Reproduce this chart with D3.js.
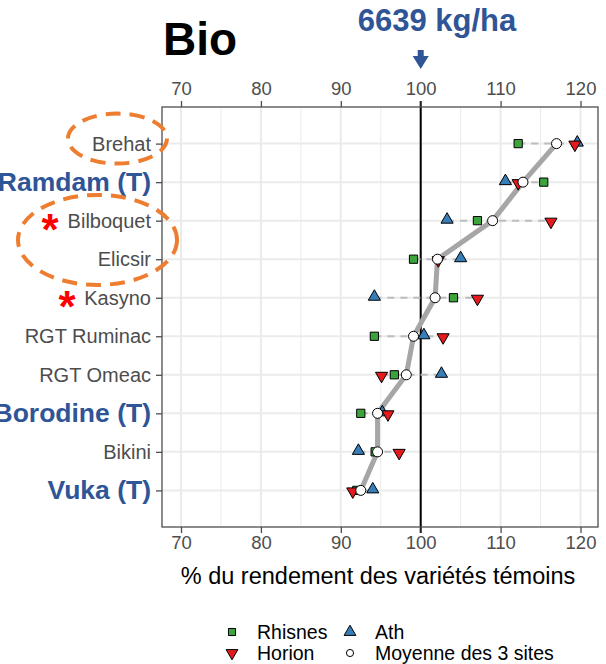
<!DOCTYPE html>
<html>
<head>
<meta charset="utf-8">
<script src="https://cdn.jsdelivr.net/npm/d3@7.8.5/dist/d3.min.js"></script>
<style>
  body { margin: 0; background: #fff; }
  svg { display: block; font-family: "Liberation Sans", Arial, sans-serif; }
</style>
</head>
<body>
<div id="chart"></div>
<script>
// Varieties, top to bottom
const varieties = ["Brehat", "Ramdam (T)", "Bilboquet", "Elicsir", "Kasyno",
  "RGT Ruminac", "RGT Omeac", "Borodine (T)", "Bikini", "Vuka (T)"];
const temoins = ["Ramdam (T)", "Borodine (T)", "Vuka (T)"];
const starred = ["Bilboquet", "Kasyno"];

// % of control yield per site
const rhisnes = [112.2, 115.4, 107.1, 99.1, 104.1, 94.2, 96.7, 92.5, 94.3, 92.0];
const horion  = [119.3, 112.2, 116.3, 102.2, 107.1, 102.8, 95.1, 95.9, 97.3, 91.5];
const ath     = [119.6, 110.6, 103.3, 105.0, 94.2, 100.4, 102.6, 95.2, 92.2, 94.0];
const moyenne = [117.0, 112.8, 109.0, 102.1, 101.8, 99.1, 98.2, 94.6, 94.6, 92.5];

const xTicks = [70, 80, 90, 100, 110, 120];
const xMinor = [75, 85, 95, 105, 115];

const width = 606, height = 664;
const margin = { top: 107, right: 8, bottom: 137, left: 162 };
const blue = "#2F5597";
const orange = "#ED7D31";
const colors = { rhisnes: "#3DA33D", horion: "#E41A1C", ath: "#377EB8" };

const svg = d3.select("#chart").append("svg")
  .attr("width", width)
  .attr("height", height);

const x = d3.scaleLinear()
  .domain([67.62, 122.19])
  .range([margin.left, width - margin.right]);

const y = d3.scalePoint()
  .domain(varieties)
  .range([margin.top, height - margin.bottom])
  .padding(0.95);

const rows = varieties.map((v, i) => ({
  name: v,
  rhisnes: rhisnes[i],
  horion: horion[i],
  ath: ath[i],
  moyenne: moyenne[i],
}));

// grid
const grid = svg.append("g");
grid.selectAll(".minor").data(xMinor).enter().append("line")
  .attr("x1", d => x(d)).attr("x2", d => x(d))
  .attr("y1", margin.top).attr("y2", height - margin.bottom)
  .attr("stroke", "#ebebeb").attr("stroke-width", 1);
grid.selectAll(".major").data(xTicks).enter().append("line")
  .attr("x1", d => x(d)).attr("x2", d => x(d))
  .attr("y1", margin.top).attr("y2", height - margin.bottom)
  .attr("stroke", "#ebebeb").attr("stroke-width", 2);
grid.selectAll(".hrow").data(varieties).enter().append("line")
  .attr("x1", margin.left).attr("x2", width - margin.right)
  .attr("y1", d => y(d)).attr("y2", d => y(d))
  .attr("stroke", "#ebebeb").attr("stroke-width", 2);

// reference line at 100
svg.append("line")
  .attr("x1", x(100)).attr("x2", x(100))
  .attr("y1", margin.top - 6).attr("y2", height - margin.bottom + 6)
  .attr("stroke", "#000").attr("stroke-width", 2);

// range per variety (dashed)
svg.append("g").selectAll("line").data(rows).enter().append("line")
  .attr("x1", d => x(Math.min(d.rhisnes, d.horion, d.ath)))
  .attr("x2", d => x(Math.max(d.rhisnes, d.horion, d.ath)))
  .attr("y1", d => y(d.name)).attr("y2", d => y(d.name))
  .attr("stroke", "#bdbdbd").attr("stroke-width", 2)
  .attr("stroke-dasharray", "7,6");

// mean line
svg.append("path")
  .datum(rows)
  .attr("fill", "none")
  .attr("stroke", "#a6a6a6")
  .attr("stroke-width", 5)
  .attr("stroke-linejoin", "round")
  .attr("d", d3.line().x(d => x(d.moyenne)).y(d => y(d.name)));

const triUp = d3.symbol().type(d3.symbolTriangle).size(64);
const square = d3.symbol().type(d3.symbolSquare).size(68);

svg.append("g").selectAll("path").data(rows).enter().append("path")
  .attr("d", triUp)
  .attr("transform", d => `translate(${x(d.ath)},${y(d.name) - 1})`)
  .attr("fill", colors.ath).attr("stroke", "#000").attr("stroke-width", 1);

svg.append("g").selectAll("path").data(rows).enter().append("path")
  .attr("d", square)
  .attr("transform", d => `translate(${x(d.rhisnes)},${y(d.name)})`)
  .attr("fill", colors.rhisnes).attr("stroke", "#000").attr("stroke-width", 1);

svg.append("g").selectAll("path").data(rows).enter().append("path")
  .attr("d", triUp)
  .attr("transform", d => `translate(${x(d.horion)},${y(d.name) + 1}) rotate(180)`)
  .attr("fill", colors.horion).attr("stroke", "#000").attr("stroke-width", 1);

svg.append("g").selectAll("circle").data(rows).enter().append("circle")
  .attr("cx", d => x(d.moyenne)).attr("cy", d => y(d.name))
  .attr("r", 5)
  .attr("fill", "#fff").attr("stroke", "#000").attr("stroke-width", 1);

// panel border
svg.append("rect")
  .attr("x", margin.left).attr("y", margin.top)
  .attr("width", width - margin.left - margin.right)
  .attr("height", height - margin.top - margin.bottom)
  .attr("fill", "none").attr("stroke", "#4d4d4d").attr("stroke-width", 1.3);

// axes
const topAxis = svg.append("g")
  .attr("transform", `translate(0,${margin.top})`)
  .call(d3.axisTop(x).tickValues(xTicks).tickSize(6).tickPadding(6));
const bottomAxis = svg.append("g")
  .attr("transform", `translate(0,${height - margin.bottom})`)
  .call(d3.axisBottom(x).tickValues(xTicks).tickSize(6).tickPadding(3));
const leftAxis = svg.append("g")
  .attr("transform", `translate(${margin.left},0)`)
  .call(d3.axisLeft(y).tickSize(6).tickPadding(5));

[topAxis, bottomAxis, leftAxis].forEach(g => {
  g.select(".domain").remove();
  g.selectAll(".tick line").attr("stroke", "#4d4d4d").attr("stroke-width", 1.3);
  g.selectAll(".tick text")
    .attr("fill", "#4d4d4d")
    .style("font-family", "'Liberation Sans', Arial, sans-serif")
    .style("font-size", "18.5px");
});

leftAxis.selectAll(".tick text")
  .style("font-size", d => temoins.includes(d) ? "26.5px" : "20px")
  .style("font-weight", d => temoins.includes(d) ? "bold" : "normal")
  .attr("fill", d => temoins.includes(d) ? blue : "#4d4d4d");

// axis title
svg.append("text")
  .attr("x", (margin.left + width - margin.right) / 2 - 2)
  .attr("y", 584)
  .attr("text-anchor", "middle")
  .style("font-size", "23.5px")
  .attr("fill", "#000")
  .text("% du rendement des variétés témoins");

// titles
svg.append("text")
  .attr("x", 163).attr("y", 55)
  .style("font-size", "46px").style("font-weight", "bold")
  .attr("fill", "#000")
  .text("Bio");

svg.append("text")
  .attr("x", 437).attr("y", 31)
  .attr("text-anchor", "middle")
  .style("font-size", "31px").style("font-weight", "bold")
  .attr("fill", blue)
  .text("6639 kg/ha");

const ax = x(100);
svg.append("path")
  .attr("d", `M${ax - 3},50 L${ax + 3},50 L${ax + 3},56 L${ax + 8},56 L${ax},69 L${ax - 8},56 L${ax - 3},56 Z`)
  .attr("fill", blue);

// annotations: asterisks and dashed ellipses
svg.append("g").selectAll("text").data(starred).enter().append("text")
  .attr("x", d => d === "Bilboquet" ? 50 : 67)
  .attr("y", d => y(d) + 24)
  .attr("text-anchor", "middle")
  .style("font-size", "44px").style("font-weight", "bold")
  .attr("fill", "#FF0000")
  .text("*");

svg.append("ellipse")
  .attr("cx", 117.5).attr("cy", y("Brehat") - 5)
  .attr("rx", 49.5).attr("ry", 25)
  .attr("fill", "none").attr("stroke", orange)
  .attr("stroke-width", 4).attr("stroke-dasharray", "15,9");

svg.append("ellipse")
  .attr("cx", 97.5).attr("cy", (y("Bilboquet") + y("Elicsir")) / 2)
  .attr("rx", 79.5).attr("ry", 45)
  .attr("fill", "none").attr("stroke", orange)
  .attr("stroke-width", 4).attr("stroke-dasharray", "15,9");

// legend
const legendItems = [
  { label: "Rhisnes", shape: "square", fill: colors.rhisnes, col: 0, row: 0 },
  { label: "Ath", shape: "up", fill: colors.ath, col: 1, row: 0 },
  { label: "Horion", shape: "down", fill: colors.horion, col: 0, row: 1 },
  { label: "Moyenne des 3 sites", shape: "circle", fill: "#fff", col: 1, row: 1 },
];
const legend = svg.append("g").attr("transform", "translate(232,632)");
const lg = legend.selectAll("g").data(legendItems).enter().append("g")
  .attr("transform", d => `translate(${d.col * 118},${d.row * 21})`);
lg.append("path")
  .attr("d", d => {
    if (d.shape === "square") return d3.symbol().type(d3.symbolSquare).size(50)();
    if (d.shape === "circle") return d3.symbol().type(d3.symbolCircle).size(40)();
    return d3.symbol().type(d3.symbolTriangle).size(60)();
  })
  .attr("transform", d => d.shape === "down" ? "rotate(180)" : null)
  .attr("fill", d => d.fill)
  .attr("stroke", "#000").attr("stroke-width", 1);
lg.append("text")
  .attr("x", 25).attr("y", 6.5)
  .style("font-size", "19.5px")
  .attr("fill", "#000")
  .text(d => d.label);
</script>
</body>
</html>
